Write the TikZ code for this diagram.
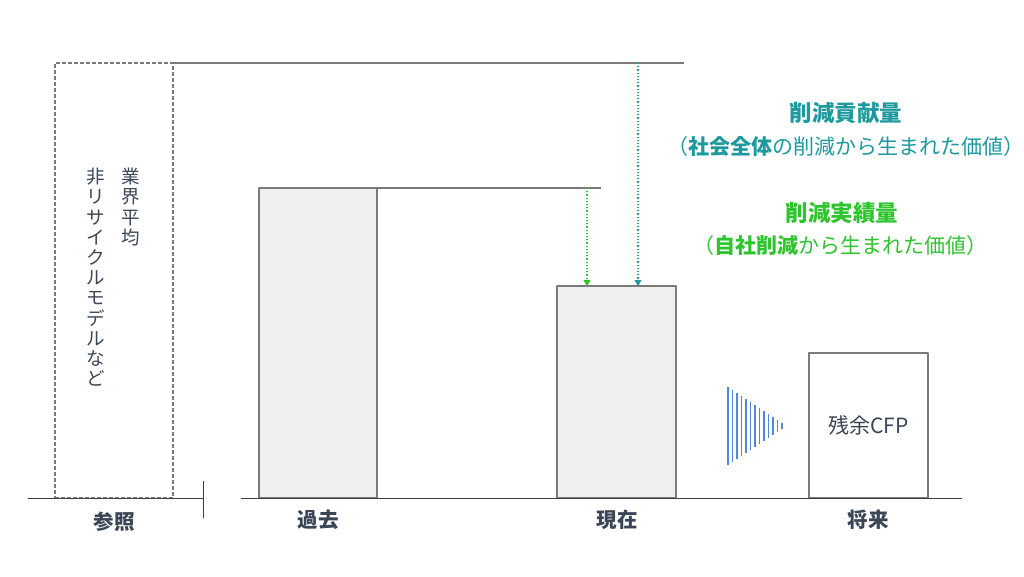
\documentclass[tikz,border=0pt]{standalone}
\usepackage{fontspec}
\setmainfont{Noto Sans CJK JP}
\usetikzlibrary{arrows.meta}
\definecolor{barline}{HTML}{7A7A7A}
\definecolor{barfill}{HTML}{F0F0F0}
\definecolor{axisline}{HTML}{404040}
\definecolor{txtgray}{HTML}{3A4555}
\definecolor{cteal}{HTML}{1E9A9E}
\definecolor{cgreen}{HTML}{2EC42E}
\definecolor{cblue}{HTML}{5088DE}
\tikzset{
	bar/.style={draw=barline, line width=1.6pt, fill=barfill, inner sep=0pt, outer sep=0pt, anchor=south west},
	lbl/.style={font=\fontsize{20.5}{24}\selectfont\bfseries, text=txtgray},
	vtxt/.style={font=\fontsize{18.5}{20.2}\selectfont, text=txtgray, align=center, anchor=north, inner sep=0pt},
	head/.style={font=\fontsize{22.5}{26}\selectfont\bfseries},
	sub/.style={font=\fontsize{21}{24}\selectfont},
}
\begin{document}
\begin{tikzpicture}[x=1pt, y=-1pt, line join=round, >={Triangle[width=7pt,length=6pt]}]
			\useasboundingbox (0,0) rectangle (1024,576);
			\path
			(173,63)coordinate (T0)
			(684,63)coordinate (T1)
			(601,188)coordinate (P1)
			(587,188)coordinate (G)
			(638,63)coordinate (B)
			;
			% bars
			\node[bar, minimum width=118pt, minimum height=310pt] (past) at (259,498) {};
			\node[bar, minimum width=119pt, minimum height=212pt] (now) at (557,498) {};
			\node[bar, fill=white, minimum width=119pt, minimum height=145pt] (future) at (809,498) {};
			\node[font=\fontsize{21}{24}\selectfont, text=txtgray] (rest) at (future.center) {残余CFP};
			\node[draw=barline, dash pattern=on 4pt off 2pt, line width=1.3pt, inner sep=0pt, outer sep=0pt, anchor=south west, minimum width=118pt, minimum height=435pt] (refbox) at (55,498) {};
			
			\draw [barline, line width=1.2pt]
			(T0)--(T1)
			(past.north east)--(P1)
			;
			\draw [axisline, line width=1pt]
			(28,498)--(203,498)
			(203,481)--(203,518)
			(241,498)--(962,498)
			;
			\draw [->, cgreen, dotted, line width=1.2pt] (G)--(G |- now.north);
			\draw [->, cteal, dotted, line width=1.2pt] (B)--(B |- now.north);
			
			% striped arrow
			\foreach \i in {0,...,12}\draw[cblue, line width=1.9pt] ({728+4.5*\i},{426-39*(1-\i/13)})--({728+4.5*\i},{426+39*(1-\i/13)});
			
			\node[lbl] (reflbl) at (114,522) {参照};
			\node[lbl] (pastlbl) at (318,520) {過去};
			\node[lbl] (nowlbl) at (617,520) {現在};
			\node[lbl] (futlbl) at (868,520) {将来};
			
			\node[vtxt] (avg) at (131,168) {業\\界\\平\\均};
			\node[vtxt] (nonrec) at (96,168) {非\\リ\\サ\\イ\\ク\\ル\\モ\\デ\\ル\\な\\ど};
			
			\node[head, text=cteal] (contrib) at (846,113) {削減貢献量};
			\node[sub, text=cteal] (contribsub) at (846,146) {（\textbf{社会全体}の削減から生まれた価値）};
			\node[head, text=cgreen] (actual) at (842,213) {削減実績量};
			\node[sub, text=cgreen] (actualsub) at (840,246) {（\textbf{自社削減}から生まれた価値）};
		\end{tikzpicture}
\end{document}
